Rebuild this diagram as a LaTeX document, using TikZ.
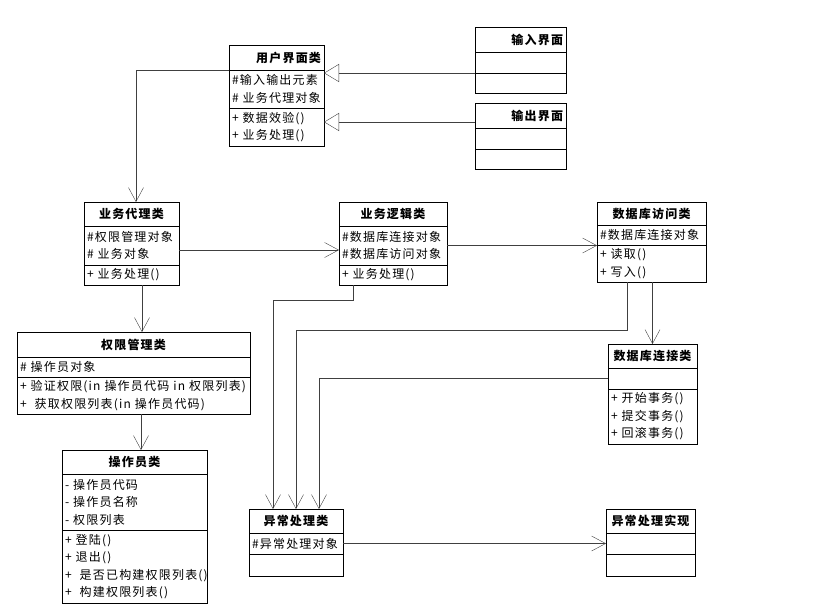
\documentclass[tikz,border=0pt]{standalone}
\usepackage{fontspec}
\setmainfont{Noto Sans CJK SC}[LetterSpace=10]
\usetikzlibrary{arrows.meta}
\begin{document}
\begin{tikzpicture}[
    x=1pt, y=-1pt,
    every node/.style={font=\fontsize{12}{17.5}\selectfont},
    class part/.style 2 args={draw, line width=0.8pt, outer sep=0pt, anchor=north west,
        inner xsep=3pt, inner ysep=0pt, text width=#1, minimum height=#2, align=left},
    class title/.style 2 args={class part={#1}{#2}, align=center,
        font=\fontsize{12}{17.5}\selectfont\bfseries},
    assoc line/.style={draw, black!75, -{Straight Barb[length=14pt, width=15pt]}},
    realize line/.style={draw, black!75, -{Triangle[open, length=15pt, width=18pt]}},
    ]
\useasboundingbox (0,0) rectangle (829,606);
% user interface
\node[class title={89pt}{25pt}, align=right] (ui-t) at (229,45) {用户界面类};
\node[class part={89pt}{38pt}] (ui-a) at (ui-t.south west) {\#输入输出元素\\\# 业务代理对象};
\node[class part={89pt}{38pt}] (ui-m) at (ui-a.south west) {+ 数据效验()\\+ 业务处理()};
\node[class title={85pt}{25pt}, align=right] (input-t) at (475,27) {输入界面};
\node[class part={85pt}{21pt}] (input-a) at (input-t.south west) {};
\node[class part={85pt}{20pt}] (input-m) at (input-a.south west) {};
\node[class title={85pt}{25pt}, align=right] (output-t) at (475,103) {输出界面};
\node[class part={85pt}{21pt}] (output-a) at (output-t.south west) {};
\node[class part={85pt}{20pt}] (output-m) at (output-a.south west) {};
% business layer
\node[class title={89pt}{24pt}] (agent-t) at (84,202) {业务代理类};
\node[class part={89pt}{39pt}] (agent-a) at (agent-t.south west) {\#权限管理对象\\\# 业务对象};
\node[class part={89pt}{20pt}] (agent-m) at (agent-a.south west) {+ 业务处理()};
\node[class title={102pt}{24pt}] (logic-t) at (339,202) {业务逻辑类};
\node[class part={102pt}{39pt}] (logic-a) at (logic-t.south west) {\#数据库连接对象\\\#数据库访问对象};
\node[class part={102pt}{20pt}] (logic-m) at (logic-a.south west) {+ 业务处理()};
\node[class title={103pt}{23pt}] (dbaccess-t) at (597,202) {数据库访问类};
\node[class part={103pt}{20pt}] (dbaccess-a) at (dbaccess-t.south west) {\#数据库连接对象};
\node[class part={103pt}{37pt}] (dbaccess-m) at (dbaccess-a.south west) {+ 读取()\\+ 写入()};
% permissions
\node[class title={227pt}{25pt}] (perm-t) at (17,332) {权限管理类};
\node[class part={227pt}{20pt}] (perm-a) at (perm-t.south west) {\# 操作员对象};
\node[class part={227pt}{37pt}] (perm-m) at (perm-a.south west) {+ 验证权限(in 操作员代码 in 权限列表)\\+~~获取权限列表(in 操作员代码)};
\node[class title={139pt}{24pt}] (oper-t) at (62,450) {操作员类};
\node[class part={139pt}{56pt}] (oper-a) at (oper-t.south west) {- 操作员代码\\- 操作员名称\\- 权限列表};
\node[class part={139pt}{73pt}] (oper-m) at (oper-a.south west) {+ 登陆()\\+ 退出()\\+~~是否已构建权限列表()\\+~~构建权限列表()};
% database connection
\node[class title={83pt}{24pt}] (dbconn-t) at (608,344) {数据库连接类};
\node[class part={83pt}{21pt}] (dbconn-a) at (dbconn-t.south west) {};
\node[class part={83pt}{55pt}] (dbconn-m) at (dbconn-a.south west) {+ 开始事务()\\+ 提交事务()\\+ 回滚事务()};
% exceptions
\node[class title={88pt}{24pt}] (exc-t) at (249,509) {异常处理类};
\node[class part={88pt}{21pt}] (exc-a) at (exc-t.south west) {\#异常处理对象};
\node[class part={88pt}{22pt}] (exc-m) at (exc-a.south west) {};
\node[class title={83pt}{24pt}] (excimpl-t) at (606,509) {异常处理实现};
\node[class part={83pt}{21pt}] (excimpl-a) at (excimpl-t.south west) {};
\node[class part={83pt}{22pt}] (excimpl-m) at (excimpl-a.south west) {};
% connectors
\coordinate (output-out) at ([yshift=6pt]output-t.south west);
\coordinate (agent-in) at ([xshift=4.5pt]agent-t.north);
\coordinate (agent-out) at ([yshift=-4.5pt]agent-a.east);
\coordinate (agent-down) at ([xshift=10.5pt]agent-m.south);
\coordinate (perm-down) at ([xshift=7.5pt]perm-m.south);
\draw[realize line] (input-m.north west) -- (input-m.north west -| ui-a.east);
\draw[realize line] (output-out) -- (output-out -| ui-m.east);
\draw[assoc line] (ui-t.south west) -| (agent-in);
\draw[assoc line] (agent-out) -- (agent-out -| logic-a.west);
\draw[assoc line] (logic-a.east) -- (logic-a.east -| dbaccess-m.west);
\draw[assoc line] (agent-down) -- (agent-down |- perm-t.north);
\draw[assoc line] (perm-down) -- (perm-down |- oper-t.north);
\draw[assoc line] ([xshift=-40pt]logic-m.south) -- ++(0,15) -| ([xshift=-23pt]exc-t.north);
\draw[assoc line] ([xshift=-24.5pt]dbaccess-m.south) -- ++(0,48) -| (exc-t.north);
\draw[assoc line] (dbaccess-m.south -| dbconn-t.north) -- (dbconn-t.north);
\draw[assoc line] (dbconn-a.west) -| ([xshift=23pt]exc-t.north);
\draw[assoc line] (exc-a.east) -- (exc-a.east -| excimpl-a.west);
\end{tikzpicture}
\end{document}
